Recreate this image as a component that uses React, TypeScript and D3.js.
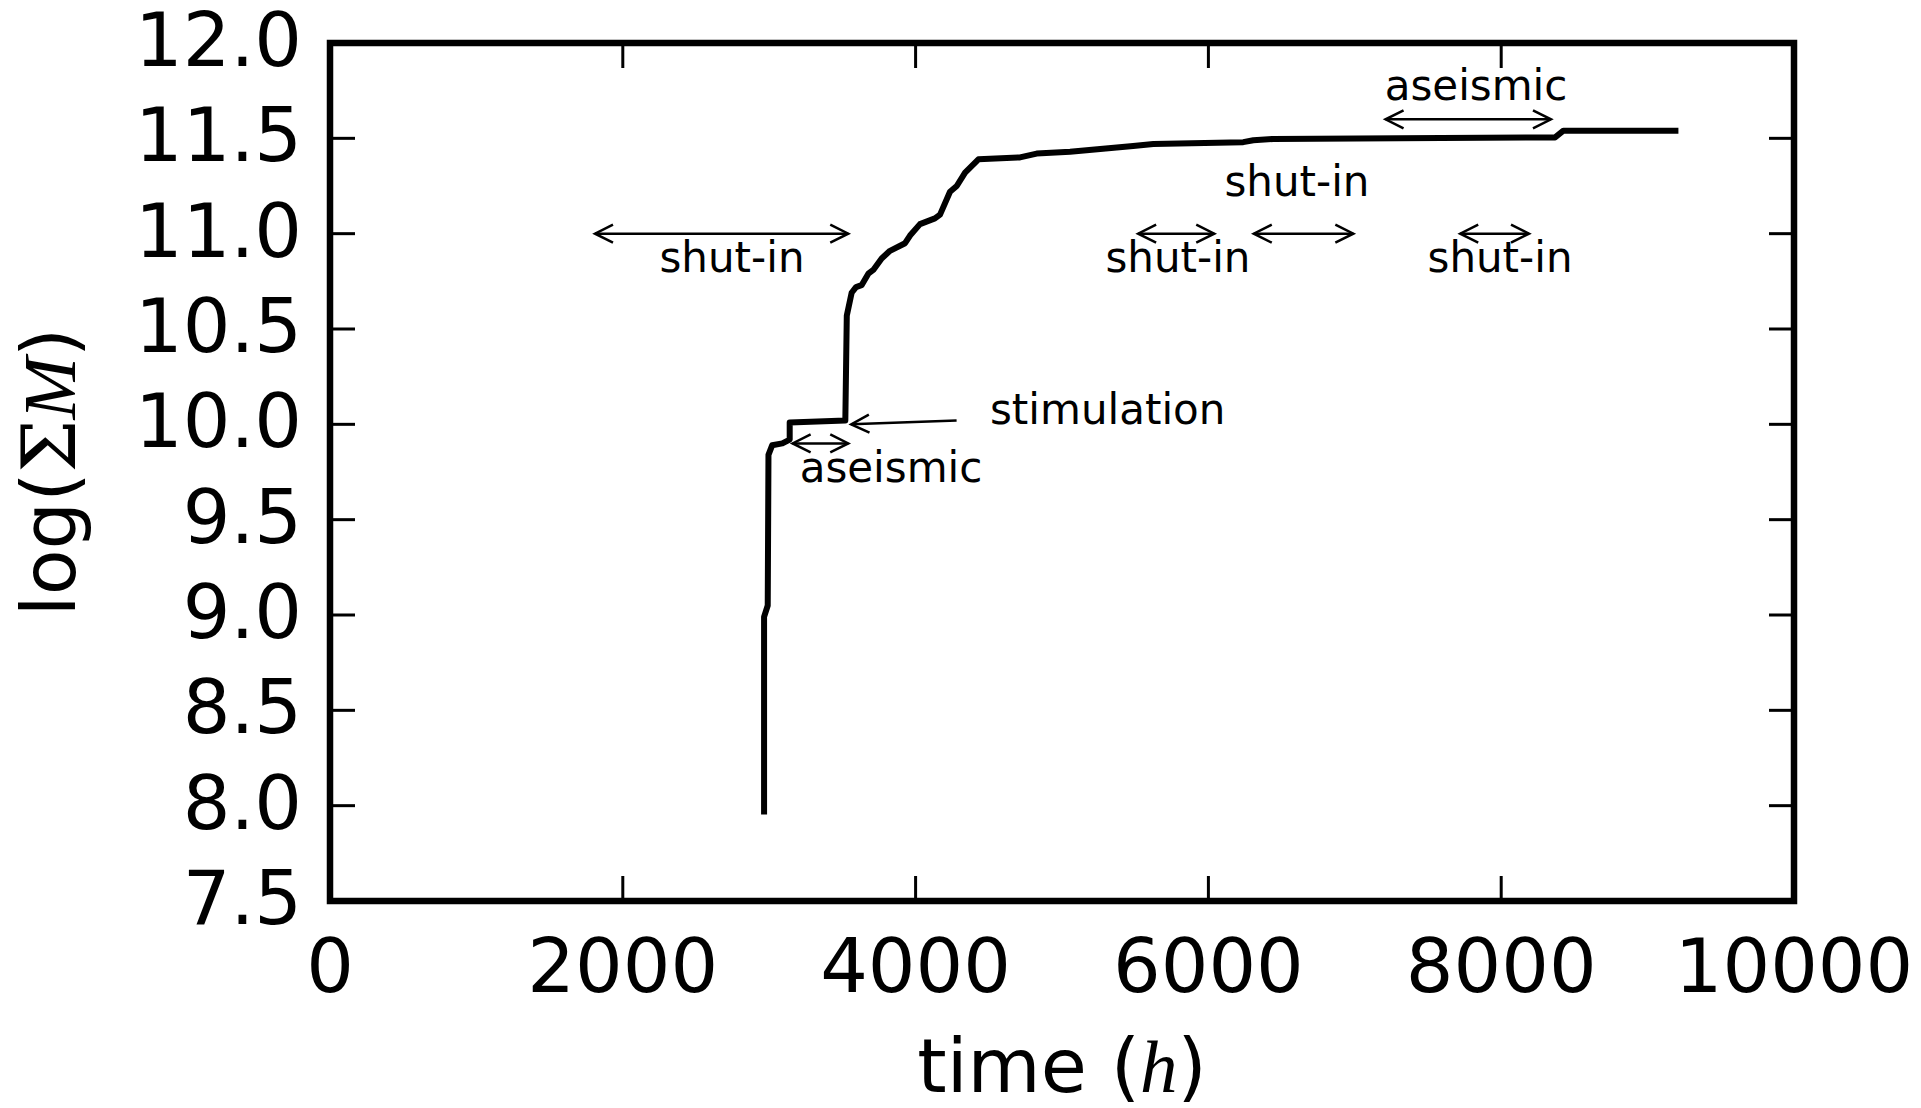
import React from 'react';
import * as d3 from 'd3';

// Cumulative seismic moment (log10) against injection time in hours
const timeHours = [
  2965, 2965, 2990, 2995, 3020, 3090, 3140, 3140, 3520, 3530, 3563, 3593, 3631,
  3677, 3711, 3768, 3825, 3928, 3962, 4030, 4132, 4167, 4235, 4281, 4338, 4429,
  4713, 4827, 5055, 5486, 5624, 6238, 6307, 6443, 7300, 8368, 8425, 9190,
];
const logMoment = [
  7.97, 8.99, 9.05, 9.84, 9.89, 9.9, 9.92, 10.01, 10.02, 10.57, 10.69, 10.72, 10.73,
  10.79, 10.81, 10.87, 10.91, 10.95, 10.99, 11.05, 11.08, 11.1, 11.22, 11.25, 11.32, 11.39,
  11.4, 11.42, 11.43, 11.46, 11.47, 11.48, 11.49, 11.497, 11.5, 11.505, 11.54, 11.54,
];

const xTickValues = [0, 2000, 4000, 6000, 8000, 10000];
const yTickValues = [7.5, 8.0, 8.5, 9.0, 9.5, 10.0, 10.5, 11.0, 11.5, 12.0];

// Double-headed interval markers: start time, end time, level
const intervalStarts = [1810, 3160, 5520, 6310, 7720, 7210];
const intervalEnds = [3540, 3540, 6040, 6990, 8190, 8340];
const intervalLevels = [11.0, 9.9, 11.0, 11.0, 11.0, 11.6];

// Interval labels: text, centre time, baseline level
const labelTexts = ['shut-in', 'aseismic', 'shut-in', 'shut-in', 'shut-in', 'aseismic'];
const labelTimes = [2746, 3832, 5792, 6605, 7992, 7828];
const labelLevels = [10.8, 9.7, 10.8, 11.2, 10.8, 11.7];

// Stimulation pointer: from text towards the onset
const stimulationText = 'stimulation';
const stimulationFrom = [4280, 10.02];
const stimulationTo = [3560, 10.0];
const stimulationTextAt = [4508, 10.0];

const W = 1921;
const H = 1108;
const left = 330;
const right = 1794;
const top = 43;
const bottom = 901;
const sans = '"DejaVu Sans", sans-serif';
const serif = '"Liberation Serif", "DejaVu Serif", serif';
const serifWide = '"DejaVu Serif", serif';

function headPath(tx: number, ty: number, fx: number, fy: number) {
  const L = 18;
  const Wd = 9;
  const dx = tx - fx;
  const dy = ty - fy;
  const len = Math.hypot(dx, dy) || 1;
  const ux = dx / len;
  const uy = dy / len;
  const nx = -uy;
  const ny = ux;
  const bx = tx - ux * L;
  const by = ty - uy * L;
  return `M${bx + nx * Wd},${by + ny * Wd}L${tx},${ty}L${bx - nx * Wd},${by - ny * Wd}`;
}

export default function App() {
  const x = d3.scaleLinear().domain([0, 10000]).range([left, right]);
  const y = d3.scaleLinear().domain([7.5, 12]).range([bottom, top]);

  const pts: [number, number][] = timeHours.map((t, i) => [t, logMoment[i]]);
  const line = d3
    .line<[number, number]>()
    .x((d) => x(d[0]))
    .y((d) => y(d[1]));

  const tickLen = 25;

  return (
    <svg
      width={W}
      height={H}
      style={{ position: 'absolute', left: 0, top: 0, display: 'block', background: '#fff' }}
    >
      <rect x={0} y={0} width={W} height={H} fill="#fff" />

      {/* cumulative moment curve */}
      <path
        d={line(pts) || ''}
        fill="none"
        stroke="#000"
        strokeWidth={6}
        strokeLinejoin="round"
        strokeLinecap="square"
      />

      {/* interval arrows */}
      {intervalStarts.map((s, i) => {
        const x1 = x(s);
        const x2 = x(intervalEnds[i]);
        const yy = y(intervalLevels[i]);
        return (
          <g key={'iv' + i} fill="none" stroke="#000" strokeWidth={2.5}>
            <line x1={x1} y1={yy} x2={x2} y2={yy} />
            <path d={headPath(x1, yy, x2, yy)} />
            <path d={headPath(x2, yy, x1, yy)} />
          </g>
        );
      })}

      {/* stimulation pointer */}
      <g fill="none" stroke="#000" strokeWidth={2.5}>
        <line
          x1={x(stimulationFrom[0])}
          y1={y(stimulationFrom[1])}
          x2={x(stimulationTo[0])}
          y2={y(stimulationTo[1])}
        />
        <path
          d={headPath(
            x(stimulationTo[0]),
            y(stimulationTo[1]),
            x(stimulationFrom[0]),
            y(stimulationFrom[1])
          )}
        />
      </g>

      {/* annotation labels */}
      {labelTexts.map((t, i) => (
        <text
          key={'lb' + i}
          x={x(labelTimes[i])}
          y={y(labelLevels[i])}
          textAnchor="middle"
          fontFamily={sans}
          fontSize={42}
          fill="#000"
        >
          {t}
        </text>
      ))}
      <text
        x={x(stimulationTextAt[0])}
        y={y(stimulationTextAt[1])}
        fontFamily={sans}
        fontSize={42}
        fill="#000"
      >
        {stimulationText}
      </text>

      {/* ticks on all four sides, pointing inward */}
      <g stroke="#000" strokeWidth={3}>
        {xTickValues.map((v) => (
          <g key={'xt' + v}>
            <line x1={x(v)} x2={x(v)} y1={bottom} y2={bottom - tickLen} />
            <line x1={x(v)} x2={x(v)} y1={top} y2={top + tickLen} />
          </g>
        ))}
        {yTickValues.map((v) => (
          <g key={'yt' + v}>
            <line x1={left} x2={left + tickLen} y1={y(v)} y2={y(v)} />
            <line x1={right} x2={right - tickLen} y1={y(v)} y2={y(v)} />
          </g>
        ))}
      </g>

      {/* frame */}
      <rect
        x={left}
        y={top}
        width={right - left}
        height={bottom - top}
        fill="none"
        stroke="#000"
        strokeWidth={6.5}
        strokeLinejoin="miter"
      />

      {/* tick labels */}
      {xTickValues.map((v) => (
        <text
          key={'xl' + v}
          x={x(v)}
          y={bottom + 91}
          textAnchor="middle"
          fontFamily={sans}
          fontSize={75}
          fill="#000"
        >
          {String(v)}
        </text>
      ))}
      {yTickValues.map((v) => (
        <text
          key={'yl' + v}
          x={302}
          y={y(v) + 23}
          textAnchor="end"
          fontFamily={sans}
          fontSize={75}
          fill="#000"
        >
          {v.toFixed(1)}
        </text>
      ))}

      {/* axis titles */}
      <text
        x={(left + right) / 2}
        y={1092}
        textAnchor="middle"
        fontFamily={sans}
        fontSize={75}
        fill="#000"
      >
        time (
        <tspan fontFamily={serif} fontStyle="italic">h</tspan>)
      </text>
      <text
        transform={`translate(75, ${(top + bottom) / 2}) rotate(-90)`}
        textAnchor="middle"
        fontFamily={sans}
        fontSize={75}
        fill="#000"
      >
        log(
        <tspan fontFamily={serifWide}>Σ</tspan>
        <tspan fontFamily={serif} fontStyle="italic">M</tspan>)
      </text>
    </svg>
  );
}
